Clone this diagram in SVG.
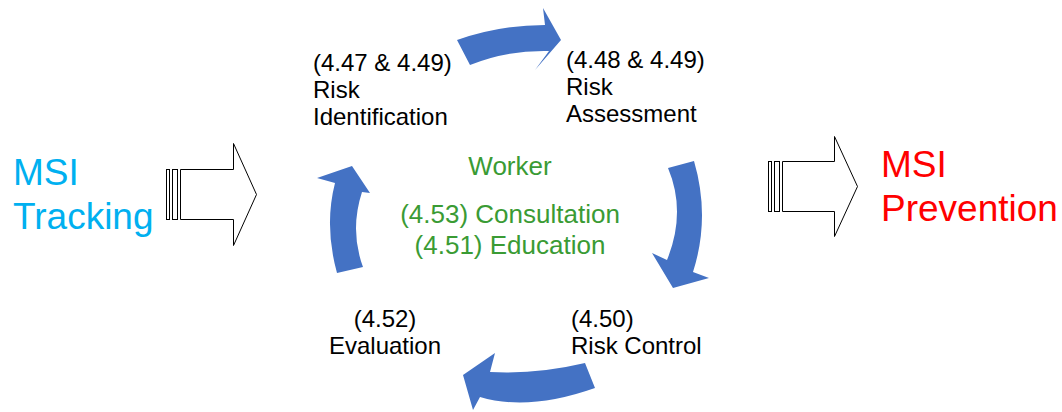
<svg xmlns="http://www.w3.org/2000/svg" width="1062" height="412" viewBox="0 0 1062 412">
  <style>
    .lbl { font-family: "Liberation Sans", Arial, sans-serif; font-size: 24px; fill: #000; }
    .green { font-family: "Liberation Sans", Arial, sans-serif; font-size: 26px; fill: #3A9B34; text-anchor: middle; }
    .big { font-family: "Liberation Sans", Arial, sans-serif; font-size: 37px; }
    .cycle { fill: #4472C4; stroke: none; }
    .hollow { fill: #fff; stroke: #000; stroke-width: 1; }
  </style>
  <rect width="1062" height="412" fill="#fff"/>

  <!-- curved cycle arrows -->
  <g id="connectors">
    <path class="cycle" d="M457,40 Q499,25 545,25 L543,8 L561,40 L535,70 L549,51 Q506.5,50 470,65 Z"/>
    <path class="cycle" d="M668,168 L694,161 Q710.5,217.5 693,272 L709,278 L673,288 L652,253 L667,260 Q686.5,212 668,168 Z"/>
    <path class="cycle" d="M585,363 L595,388 Q528.5,411.5 480,397 L473,410 L463,375 L495,353 L490,372 Q536.5,374.5 585,363 Z"/>
    <path class="cycle" d="M337,273 L363,267 Q349.5,230.5 362,192 L370,193 L352,166 L317,178 L335,183 Q324,226 337,273 Z"/>
  </g>

  <!-- striped block arrows -->
  <g id="arrow-in">
    <rect class="hollow" x="166.5" y="169.5" width="3" height="50"/>
    <rect class="hollow" x="172.5" y="169.5" width="5" height="50"/>
    <path class="hollow" d="M180.5,169.5 L233.5,169.5 L233.5,143.5 L256.5,194.5 L233.5,245.5 L233.5,219.5 L180.5,219.5 Z"/>
  </g>
  <g id="arrow-out">
    <rect class="hollow" x="768.5" y="161.5" width="3" height="50"/>
    <rect class="hollow" x="774.5" y="161.5" width="5" height="50"/>
    <path class="hollow" d="M782.5,161.5 L834.5,161.5 L834.5,136.5 L857.5,186.5 L834.5,236.5 L834.5,211.5 L782.5,211.5 Z"/>
  </g>

  <g id="msi-tracking">
    <text class="big" fill="#00B0F0" x="13" y="185">MSI</text>
    <text class="big" fill="#00B0F0" x="13" y="229">Tracking</text>
  </g>
  <g id="msi-prevention">
    <text class="big" fill="#FF0000" x="881" y="177">MSI</text>
    <text class="big" fill="#FF0000" x="881" y="221">Prevention</text>
  </g>

  <g id="risk-identification">
    <text class="lbl" x="313" y="71">(4.47 &amp; 4.49)</text>
    <text class="lbl" x="313" y="98">Risk</text>
    <text class="lbl" x="313" y="125">Identification</text>
  </g>
  <g id="risk-assessment">
    <text class="lbl" x="566" y="68">(4.48 &amp; 4.49)</text>
    <text class="lbl" x="566" y="95">Risk</text>
    <text class="lbl" x="566" y="122">Assessment</text>
  </g>
  <g id="risk-control">
    <text class="lbl" x="571" y="327">(4.50)</text>
    <text class="lbl" x="571" y="354">Risk Control</text>
  </g>
  <g id="evaluation">
    <text class="lbl" x="385" y="327" text-anchor="middle">(4.52)</text>
    <text class="lbl" x="385" y="354" text-anchor="middle">Evaluation</text>
  </g>

  <g id="worker">
    <text class="green" x="510" y="175">Worker</text>
    <text class="green" x="510" y="223">(4.53) Consultation</text>
    <text class="green" x="510" y="254">(4.51) Education</text>
  </g>
</svg>
